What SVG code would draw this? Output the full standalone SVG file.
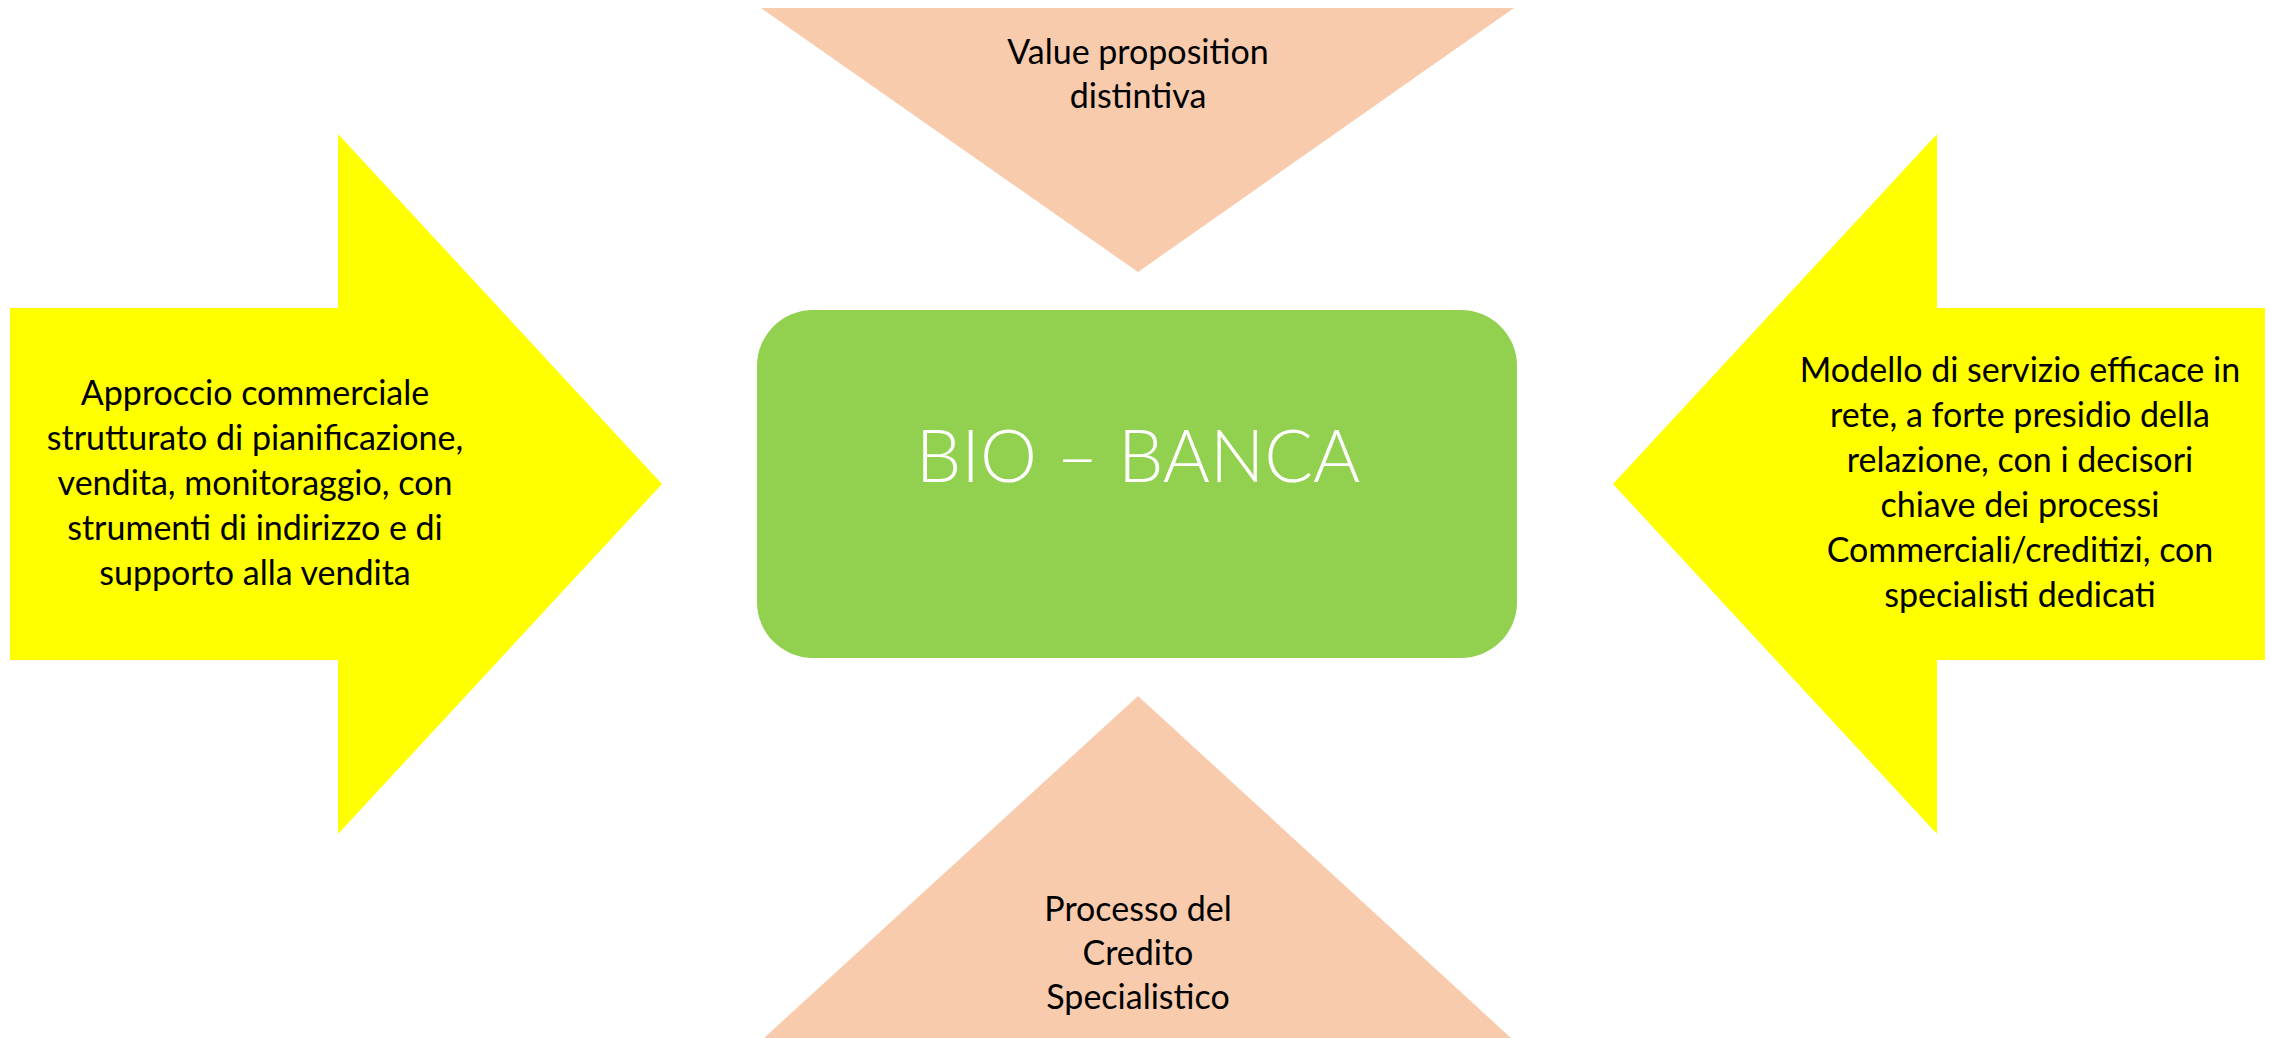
<svg xmlns="http://www.w3.org/2000/svg" width="2270" height="1038" viewBox="0 0 2270 1038">
<style>
.peach{fill:#F8CBAD}
.yellow{fill:#FFFF00}
.green{fill:#92D050}
.t{font-family:Lato,"Open Sans","Liberation Sans",sans-serif;font-size:34px;fill:#000;text-anchor:middle}
.big{font-family:Lato,"Open Sans","Liberation Sans",sans-serif;font-weight:300;font-size:72px;fill:#FFFFFF;text-anchor:middle}
</style>
<rect width="2270" height="1038" fill="#FFFFFF"/>
<g id="top">
<polygon class="peach" points="761,8 1514,8 1138,272"/>
<text class="t" x="1138" y="64">Value proposition</text>
<text class="t" x="1138" y="108">distintiva</text>
</g>
<g id="bottom">
<polygon class="peach" points="1138,696 1511,1038 764,1038"/>
<text class="t" x="1138" y="921">Processo del</text>
<text class="t" x="1138" y="965">Credito</text>
<text class="t" x="1138" y="1009">Specialistico</text>
</g>
<g id="center">
<rect class="green" x="757" y="310" width="760" height="348" rx="56" ry="56"/>
<text class="big" x="1138" y="482">BIO – BANCA</text>
</g>
<g id="left">
<polygon class="yellow" points="10,308 338,308 338,134 662,484 338,834 338,660 10,660"/>
<text class="t" x="255" y="405">Approccio commerciale</text>
<text class="t" x="255" y="450">strutturato di pianificazione,</text>
<text class="t" x="255" y="495">vendita, monitoraggio, con</text>
<text class="t" x="255" y="540">strumenti di indirizzo e di</text>
<text class="t" x="255" y="585">supporto alla vendita</text>
</g>
<g id="right">
<polygon class="yellow" points="2265,308 1937,308 1937,134 1613,484 1937,834 1937,660 2265,660"/>
<text class="t" x="2020" y="382">Modello di servizio efficace in</text>
<text class="t" x="2020" y="427">rete, a forte presidio della</text>
<text class="t" x="2020" y="472">relazione, con i decisori</text>
<text class="t" x="2020" y="517">chiave dei processi</text>
<text class="t" x="2020" y="562">Commerciali/creditizi, con</text>
<text class="t" x="2020" y="607">specialisti dedicati</text>
</g>
<g id="connectors"></g>
</svg>
